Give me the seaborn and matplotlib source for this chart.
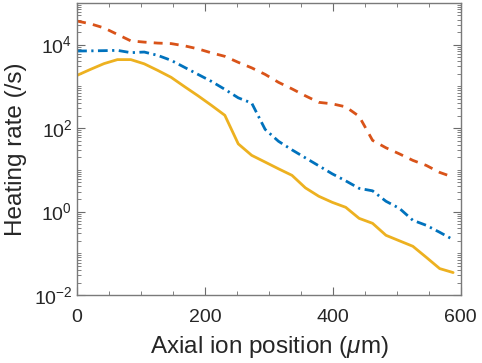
import numpy as np
import pandas as pd
import matplotlib
matplotlib.use("Agg")
import matplotlib.pyplot as plt
import matplotlib.ticker as mtick
import seaborn as sb

# axial ion position (um), sampled every 21 um
position = [0, 21, 42, 63, 84, 105, 126, 147, 168, 189, 210, 231, 252, 273, 294,
            315, 336, 357, 378, 399, 420, 441, 462, 483, 504, 525, 546, 567, 588]

# heating rates (/s)
rate_upper = [36700, 31500, 25200, 17600, 12300, 11500, 10900, 10600, 9360, 7930,
              6360, 5250, 3770, 2780, 1940, 1250, 873, 594, 415, 382,
              324, 192, 51, 33.8, 24.2, 16.9, 12.8, 8.7, 6.7]
rate_middle = [7030, 7100, 7180, 7300, 6430, 6650, 5540, 4210, 2860, 1940,
               1320, 850, 532, 399, 93.5, 48.3, 30.2, 19.4, 12.5, 8.04,
               5.47, 3.61, 3.15, 1.77, 1.20, 0.62, 0.47, 0.32, 0.213]
rate_lower = [1840, 2560, 3510, 4380, 4380, 3470, 2420, 1650, 986, 597,
              352, 203, 42, 22.3, 15.4, 10.6, 7.4, 3.71, 2.33, 1.67,
              1.27, 0.69, 0.525, 0.271, 0.20, 0.148, 0.0805, 0.0432, 0.0347]

df = pd.DataFrame({'pos': position, 'upper': rate_upper,
                   'middle': rate_middle, 'lower': rate_lower})

sb.set_style("ticks")
plt.rcParams['font.family'] = ['Liberation Sans', 'DejaVu Sans']
plt.rcParams['mathtext.fontset'] = 'custom'
plt.rcParams['mathtext.rm'] = 'Liberation Sans'
plt.rcParams['mathtext.it'] = 'Liberation Sans:italic'

fig = plt.figure(figsize=(4.82, 3.63), dpi=100)
ax = fig.add_axes([0.16, 0.187, 0.796, 0.805])

sb.lineplot(data=df, x='pos', y='upper', ax=ax, color='#D95319', lw=2,
            linestyle=(0, (3.2, 2.6)))
sb.lineplot(data=df, x='pos', y='middle', ax=ax, color='#0072BD', lw=2,
            linestyle=(0, (3.5, 1.6, 0.8, 1.6)))
sb.lineplot(data=df, x='pos', y='lower', ax=ax, color='#EDB120', lw=2)

ax.set_yscale('log')
ax.set_xlim(0, 600)
ax.set_ylim(1e-2, 1e5)
ax.xaxis.set_major_locator(mtick.MultipleLocator(200))
ax.xaxis.set_minor_locator(mtick.MultipleLocator(50))
ax.yaxis.set_major_locator(mtick.FixedLocator([1e-2, 1e0, 1e2, 1e4]))
ax.yaxis.set_major_formatter(mtick.LogFormatterSciNotation())
ax.yaxis.set_minor_locator(mtick.LogLocator(base=10, subs=np.arange(1, 10), numticks=20))
ax.yaxis.set_minor_formatter(mtick.NullFormatter())

ax.tick_params(which='both', direction='in', top=True, right=True,
               color='#6b6b6b', labelsize=14, labelcolor='#262626')
ax.tick_params(which='major', length=6)
ax.tick_params(which='minor', length=3)
ax.tick_params(axis='x', which='major', pad=10)
for s in ax.spines.values():
    s.set_color('#7a7a7a')
    s.set_linewidth(1)

ax.set_xlabel(r'Axial ion position ($\mu$m)', fontsize=17.5, color='#262626', labelpad=6)
ax.set_ylabel('Heating rate (/s)', fontsize=17.5, color='#262626', labelpad=4.5)

fig.savefig('out.png', dpi=100)
